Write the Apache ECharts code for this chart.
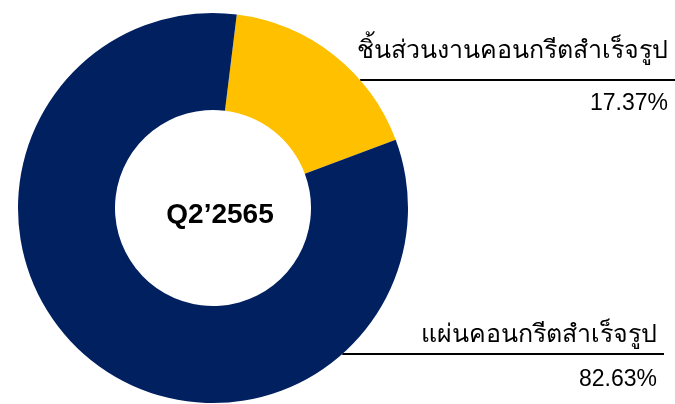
<!DOCTYPE html>
<html>

<head>
  <meta charset="utf-8">
  <title>Q2'2565</title>
  <script src="https://cdn.jsdelivr.net/npm/echarts@6/dist/echarts.min.js"></script>
  <style>
    html, body { margin: 0; padding: 0; background: #fff; }
  </style>
</head>

<body>
  <div id="main" style="width: 675px;height:404px;"></div>
  <script type="text/javascript">
    // data
    var categories = ['ชิ้นส่วนงานคอนกรีตสำเร็จรูป', 'แผ่นคอนกรีตสำเร็จรูป']
    var values = [17.37, 82.63]
    var colors = ['#FFC000', '#002060']
    var centerTitle = 'Q2\u20192565'

    // layout of the side labels (line y, right edge of text, end of line)
    var cx = 213, cy = 208, rOuter = 195, rInner = 98
    var lineY = [80, 354]
    var textRight = [668, 657]
    var lineEnd = [675, 664]
    var nameCenter = [51, 335]
    var pctCenter = [104, 380]

    var font = '"Liberation Sans", Arial, sans-serif'

    var chart = echarts.init(document.getElementById('main'))

    var pieData = categories.map(function (name, i) {
      var gap = pctCenter[i] - nameCenter[i]
      return {
        name: name,
        value: values[i],
        itemStyle: { color: colors[i] },
        label: {
          rich: {
            n: { lineHeight: gap },
            p: { lineHeight: gap }
          }
        }
      }
    })

    chart.setOption({
      backgroundColor: '#fff',
      animation: false,
      title: {
        text: centerTitle,
        left: cx + 2,
        top: cy + 2,
        textAlign: 'center',
        textVerticalAlign: 'middle',
        textStyle: { fontFamily: font, fontSize: 28, fontWeight: 'bold', color: '#000' }
      },
      series: [{
        type: 'pie',
        center: [cx, cy],
        radius: [rInner, rOuter],
        startAngle: 83,
        clockwise: true,
        avoidLabelOverlap: false,
        data: pieData,
        label: {
          show: true,
          position: 'outside',
          formatter: '{n|{b}}\n{p|{d}%}',
          rich: {
            n: { fontFamily: font, fontSize: 25, color: '#000', align: 'right' },
            p: { fontFamily: font, fontSize: 23, color: '#000', align: 'right' }
          }
        },
        labelLine: {
          show: true,
          lineStyle: { color: '#000', width: 2 }
        },
        labelLayout: function (params) {
          var i = params.dataIndex
          var y = lineY[i]
          var dy = y - cy
          var x0 = cx + Math.sqrt(rOuter * rOuter - dy * dy)
          var gap = pctCenter[i] - nameCenter[i]
          return {
            x: textRight[i],
            y: nameCenter[i] - gap / 2,
            align: 'right',
            verticalAlign: 'top',
            labelLinePoints: [[x0, y], [x0 + 1, y], [lineEnd[i], y]]
          }
        }
      }]
    })
  </script>
</body>

</html>
